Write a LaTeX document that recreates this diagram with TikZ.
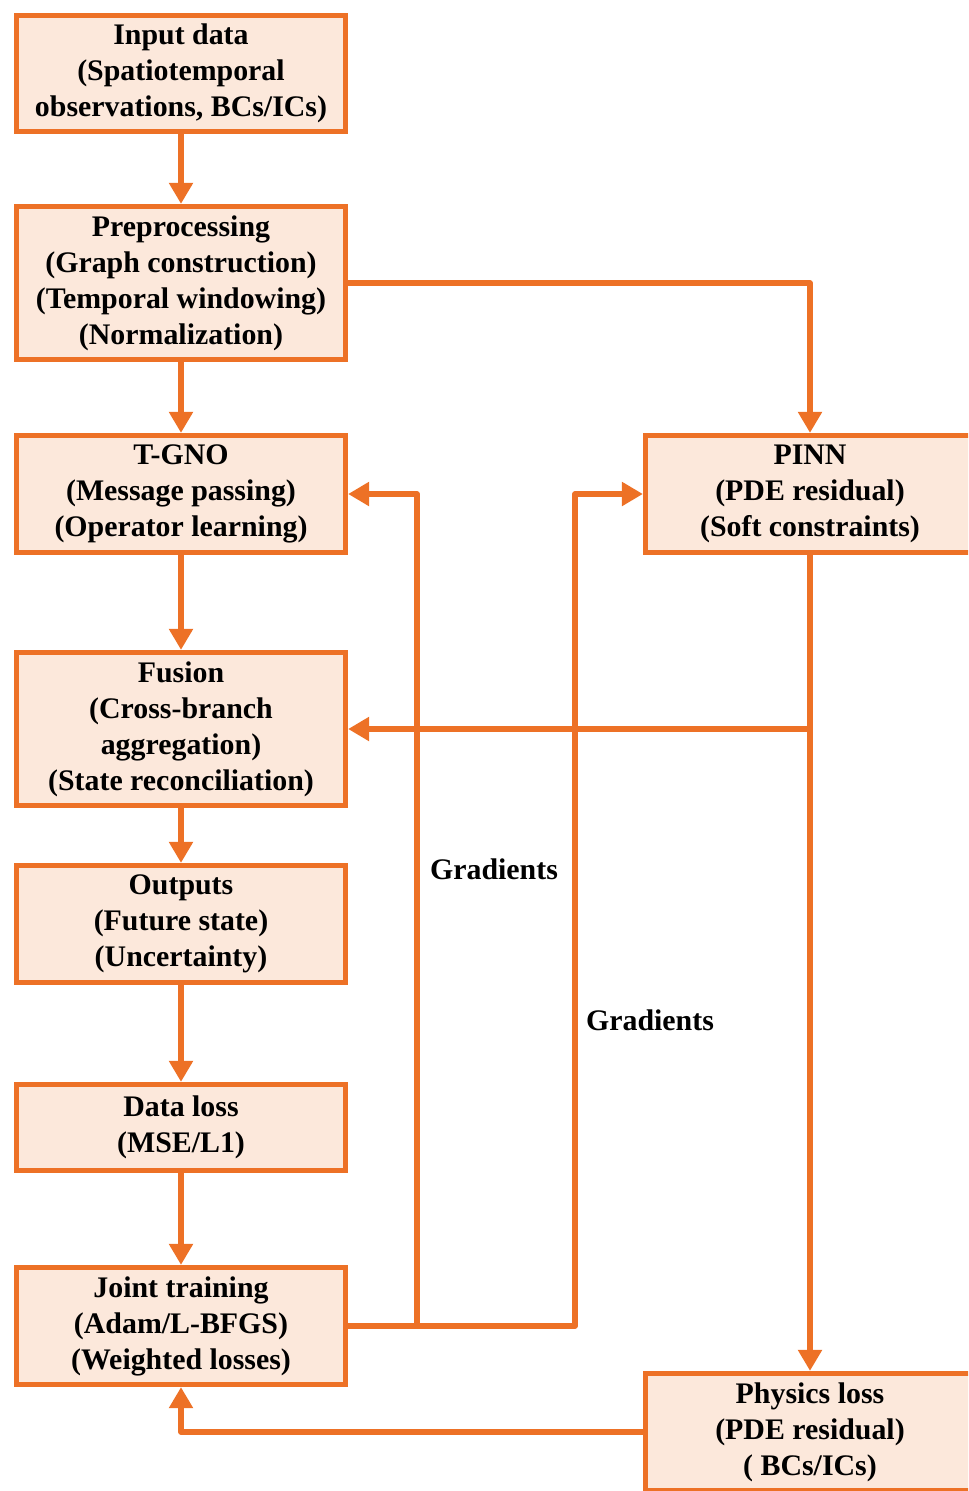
\documentclass[tikz,border=0pt]{standalone}
\usepackage{fontspec}
\setmainfont{Liberation Serif}
\usepackage{xcolor}
\usetikzlibrary{arrows.meta}
\definecolor{floworange}{RGB}{237,113,38}
\definecolor{flowfill}{RGB}{252,232,219}

\begin{document}
\begin{tikzpicture}[x=0.02cm, y=-0.02cm,
  blk/.style={draw=floworange, fill=flowfill, line width=3pt,
    minimum width=6.58cm, minimum height=2.34cm, align=center, inner sep=2pt,
    font=\bfseries\fontsize{17}{20.5}\selectfont},
  flow/.style={draw=floworange, line width=3pt, line join=round,
    -{Triangle[length=0.42cm, width=0.46cm]}},
  lbl/.style={font=\bfseries\fontsize{17}{20.5}\selectfont},
]
  \useasboundingbox (0,0) rectangle (968,1491);
  \clip (0,0) rectangle (968,1491);

  % Main column
  \node[blk, minimum height=2.32cm] (input) at (181,73.5)
    {Input data\\(Spatiotemporal\\observations, BCs/ICs)};
  \node[blk, minimum height=3.06cm] (prep) at (181,283)
    {Preprocessing\\(Graph construction)\\(Temporal windowing)\\(Normalization)};
  \node[blk] (tgno) at (181,494)
    {T-GNO\\(Message passing)\\(Operator learning)};
  \node[blk, minimum height=3.06cm] (fusion) at (181,729)
    {Fusion\\(Cross-branch\\aggregation)\\(State reconciliation)};
  \node[blk] (outs) at (181,924)
    {Outputs\\(Future state)\\(Uncertainty)};
  \node[blk, minimum height=1.72cm] (dloss) at (181,1127.5)
    {Data loss\\(MSE/L1)};
  \node[blk] (joint) at (181,1326)
    {Joint training\\(Adam/L-BFGS)\\(Weighted losses)};

  % Physics branch
  \node[blk] (pinn) at (810,494)
    {PINN\\(PDE residual)\\(Soft constraints)};
  \node[blk] (ploss) at (810,1432)
    {Physics loss\\(PDE residual)\\( BCs/ICs)};

  % Forward arrows
  \draw[flow] (input) -- (prep);
  \draw[flow] (prep) -- (tgno);
  \draw[flow] (tgno) -- (fusion);
  \draw[flow] (fusion) -- (outs);
  \draw[flow] (outs) -- (dloss);
  \draw[flow] (dloss) -- (joint);
  \draw[flow] (prep.east) -| (pinn.north);
  \draw[flow] (pinn.south) -- (ploss.north);
  \coordinate (fuse) at (810,729);
  \draw[flow] (fuse) -- (fusion.east);
  \draw[flow] (ploss.west) -| (joint.south);

  % Gradient feedback
  \coordinate (gradA) at (417,1326);
  \coordinate (gradB) at (575,1326);
  \draw[flow] (joint.east) -- (gradA) |- (tgno.east);
  \draw[flow] (joint.east) -- (gradB) |- (pinn.west);
  \node[lbl] (gradlblA) at (494,869) {Gradients};
  \node[lbl] (gradlblB) at (650,1020) {Gradients};
\end{tikzpicture}
\end{document}
